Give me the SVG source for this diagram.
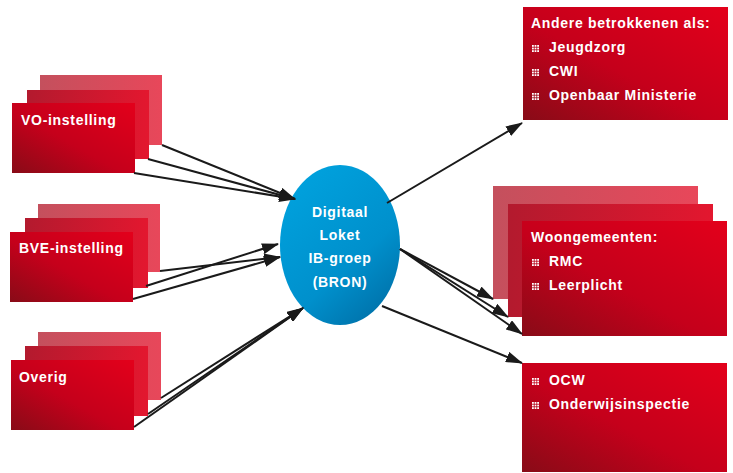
<svg xmlns="http://www.w3.org/2000/svg" width="733" height="473" viewBox="0 0 733 473">
<defs>
<linearGradient id="gFront" x1="0" y1="1" x2="1" y2="0">
<stop offset="0" stop-color="#880b17"/>
<stop offset="0.45" stop-color="#c5001b"/>
<stop offset="1" stop-color="#e3001b"/>
</linearGradient>
<linearGradient id="gMid" x1="0" y1="0" x2="1" y2="0">
<stop offset="0" stop-color="#b31a2e"/>
<stop offset="1" stop-color="#e3172f"/>
</linearGradient>
<linearGradient id="gBack" x1="0" y1="0" x2="1" y2="0">
<stop offset="0" stop-color="#c4505d"/>
<stop offset="1" stop-color="#e8475a"/>
</linearGradient>
<linearGradient id="gBlue" x1="0.2" y1="0.1" x2="0.8" y2="1">
<stop offset="0" stop-color="#00a0dc"/>
<stop offset="0.6" stop-color="#0090cc"/>
<stop offset="1" stop-color="#0070a8"/>
</linearGradient>
<marker id="ah" viewBox="0 0 17 11" refX="16" refY="5.5" markerWidth="17" markerHeight="11" orient="auto" markerUnits="userSpaceOnUse">
<path d="M0,0 L17,5.5 L0,11 z" fill="#1a1a1a"/>
</marker>
<g id="bul" fill="#ffffff">
<rect x="0" y="0" width="1.8" height="1.8"/><rect x="2.6" y="0" width="1.8" height="1.8"/><rect x="5.2" y="0" width="1.8" height="1.8"/>
<rect x="0" y="2.6" width="1.8" height="1.8"/><rect x="2.6" y="2.6" width="1.8" height="1.8"/><rect x="5.2" y="2.6" width="1.8" height="1.8"/>
<rect x="0" y="5.2" width="1.8" height="1.8"/><rect x="2.6" y="5.2" width="1.8" height="1.8"/><rect x="5.2" y="5.2" width="1.8" height="1.8"/>
</g>
</defs>
<style>
.front{fill:url(#gFront)}
.mid{fill:url(#gMid)}
.back{fill:url(#gBack)}
.t{font-family:"Liberation Sans",Arial,sans-serif;font-weight:bold;font-size:14px;letter-spacing:0.7px;fill:#ffffff}
.c{text-anchor:middle}
.con line{stroke:#1a1a1a;stroke-width:2;marker-end:url(#ah)}
</style>
<rect width="733" height="473" fill="#ffffff"/>

<g id="vo">
<rect class="back" x="40" y="75" width="122" height="70"/>
<rect class="mid" x="27" y="90" width="122" height="69"/>
<rect class="front" x="12" y="103" width="123" height="70"/>
<text class="t" x="21" y="125">VO-instelling</text>
</g>

<g id="bve">
<rect class="back" x="38" y="204" width="122" height="68"/>
<rect class="mid" x="25" y="218" width="123" height="70"/>
<rect class="front" x="10" y="232" width="123" height="70"/>
<text class="t" x="19" y="253">BVE-instelling</text>
</g>

<g id="overig">
<rect class="back" x="38" y="332" width="123" height="68"/>
<rect class="mid" x="25" y="346" width="123" height="70"/>
<rect class="front" x="11" y="360" width="123" height="70"/>
<text class="t" x="19" y="382">Overig</text>
</g>

<g id="loket">
<ellipse cx="340" cy="245" rx="60" ry="80" fill="url(#gBlue)"/>
<text class="t c" x="340" y="217">Digitaal</text>
<text class="t c" x="340" y="240">Loket</text>
<text class="t c" x="340" y="263">IB-groep</text>
<text class="t c" x="340" y="287">(BRON)</text>
</g>

<g id="andere">
<rect class="front" x="523" y="7" width="205" height="113"/>
<text class="t" x="531" y="28">Andere betrokkenen als:</text>
<use href="#bul" x="532" y="45"/>
<text class="t" x="549" y="52">Jeugdzorg</text>
<use href="#bul" x="532" y="69"/>
<text class="t" x="549" y="76">CWI</text>
<use href="#bul" x="532" y="93"/>
<text class="t" x="549" y="100">Openbaar Ministerie</text>
</g>

<g id="woongemeenten">
<rect class="back" x="493" y="186" width="205" height="113"/>
<rect class="mid" x="508" y="204" width="205" height="113"/>
<rect class="front" x="522" y="221" width="205" height="115"/>
<text class="t" x="531" y="242">Woongemeenten:</text>
<use href="#bul" x="532" y="259"/>
<text class="t" x="549" y="266">RMC</text>
<use href="#bul" x="532" y="283"/>
<text class="t" x="549" y="290">Leerplicht</text>
</g>

<g id="ocw">
<rect class="front" x="522" y="363" width="205" height="109"/>
<use href="#bul" x="532" y="378"/>
<text class="t" x="549" y="385">OCW</text>
<use href="#bul" x="532" y="402"/>
<text class="t" x="549" y="409">Onderwijsinspectie</text>
</g>

<g id="connectors" class="con">
<line x1="162" y1="145" x2="295" y2="199"/>
<line x1="148" y1="159" x2="295" y2="199"/>
<line x1="134" y1="173" x2="295" y2="199"/>
<line x1="160" y1="271" x2="280" y2="257"/>
<line x1="146" y1="286" x2="278" y2="244"/>
<line x1="133" y1="299" x2="280" y2="257"/>
<line x1="161" y1="398" x2="303" y2="308"/>
<line x1="148" y1="414" x2="303" y2="308"/>
<line x1="134" y1="427" x2="303" y2="308"/>
<line x1="387" y1="203" x2="522" y2="123"/>
<line x1="400" y1="249" x2="493" y2="299"/>
<line x1="400" y1="249" x2="508" y2="317"/>
<line x1="400" y1="249" x2="522" y2="334"/>
<line x1="382" y1="306" x2="522" y2="363"/>
</g>
</svg>
